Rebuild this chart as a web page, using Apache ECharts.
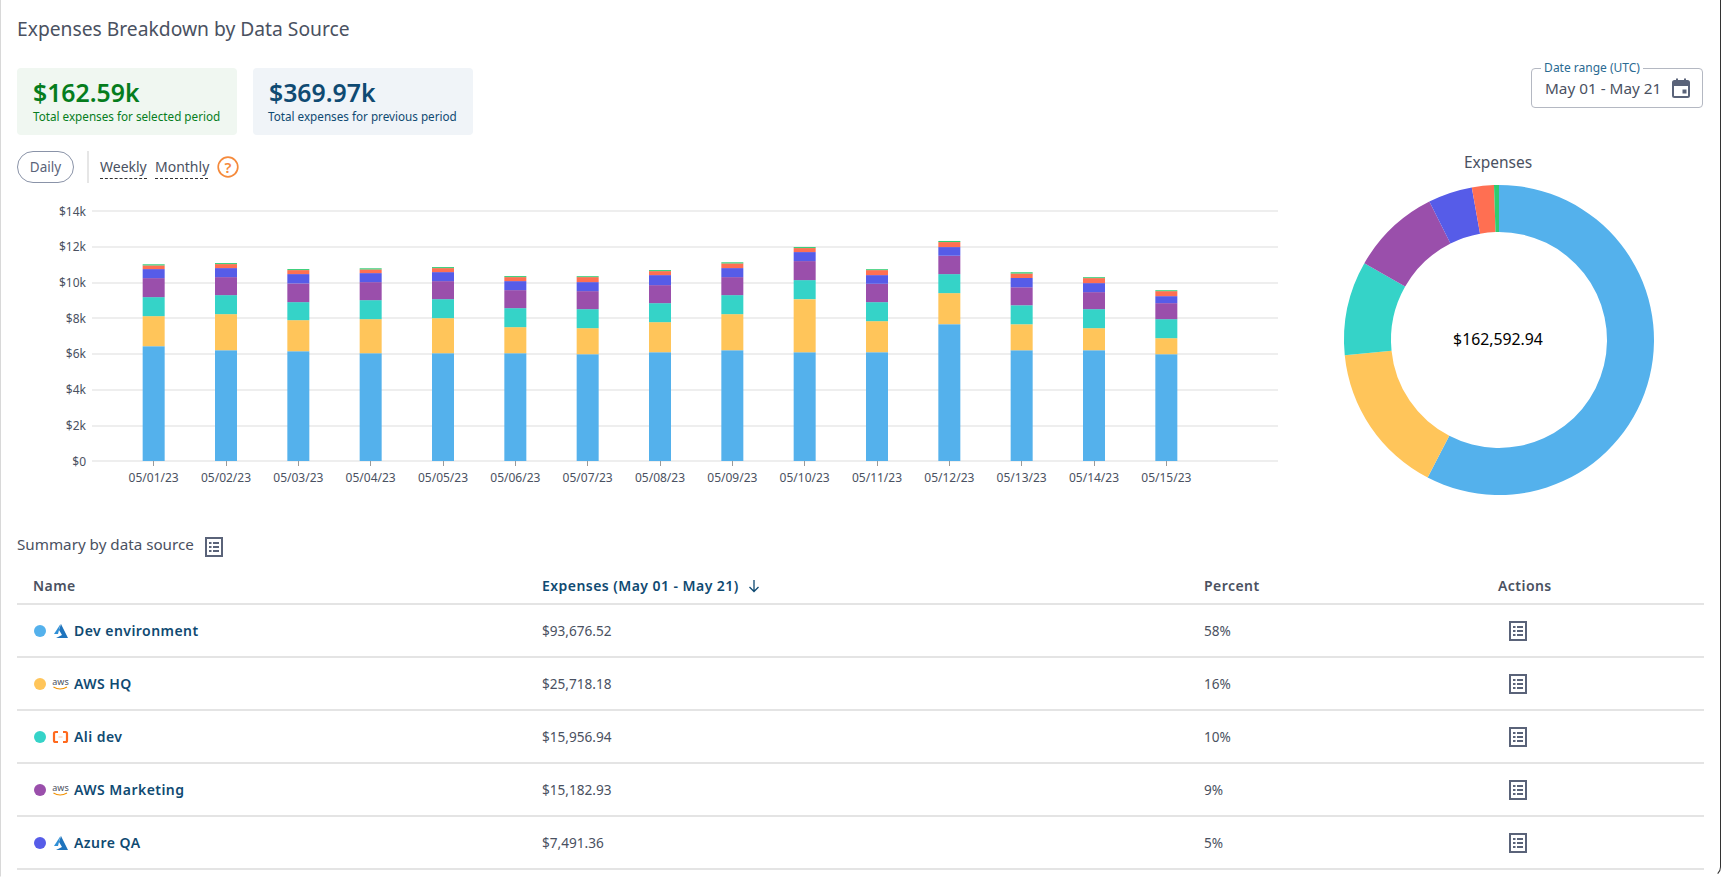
<!DOCTYPE html>
<html>
<head>
<meta charset="utf-8">
<title>Expenses Breakdown by Data Source</title>
<script src="https://cdn.jsdelivr.net/npm/echarts@6/dist/echarts.min.js"></script>
<style>
html,body{margin:0;padding:0;width:1721px;height:877px;overflow:hidden;background:#fff;font-family:"Noto Sans",sans-serif;color:#4a5161}
#chart{position:absolute;left:0;top:0;width:1721px;height:877px}
.a{position:absolute;white-space:nowrap;line-height:1}
.frame{position:absolute;left:0;top:-20px;width:1719px;height:896px;border-left:1px solid #d8d8d8;border-right:1px solid #333;border-bottom:1px solid transparent;border-bottom-right-radius:10px}
.card{position:absolute;top:68px;height:67px;width:220px;border-radius:4px}
.rowline{position:absolute;left:17px;width:1687px;height:2px;background:#e4e4e4}
.dot{position:absolute;width:12px;height:12px;border-radius:50%}
</style>
</head>
<body>
<div class="frame"></div>
<div id="chart"></div>
<div id="ui"></div>
<script>
const pageTitle = "Expenses Breakdown by Data Source";
const dates = ["05/01/23","05/02/23","05/03/23","05/04/23","05/05/23","05/06/23","05/07/23","05/08/23","05/09/23","05/10/23","05/11/23","05/12/23","05/13/23","05/14/23","05/15/23"];
const devEnvironment = [6430,6205,6149,6037,6037,6037,5981,6093,6205,6093,6093,7663,6205,6205,5981];
const awsHq = [1682,2019,1738,1906,1962,1458,1458,1682,2019,2972,1738,1738,1458,1234,897];
const aliDev = [1065,1065,1010,1065,1065,1065,1065,1065,1065,1065,1065,1065,1065,1065,1065];
const awsMarketing = [1065,1009,1047,1009,1009,1009,1009,1009,1009,1065,1028,1028,1009,953,897];
const azureQa = [505,505,523,505,505,505,505,561,505,505,486,486,505,505,392];
const otherA = [206,224,224,206,224,224,280,224,262,224,280,280,262,280,280];
const otherB = [62,56,56,62,56,56,50,56,62,56,50,62,62,50,50];
const sourceNames = ["Dev environment","AWS HQ","Ali dev","AWS Marketing","Azure QA","Other A","Other B"];
const sourceColors = ["#54b1ec","#ffc55a","#35d3c8","#9a4fab","#565ce8","#ff6f52","#2ecc71"];
const sourceTotals = [93676.52,25718.18,15956.94,15182.93,7491.36,3732,835.01];
const tableExpenses = ["$93,676.52","$25,718.18","$15,956.94","$15,182.93","$7,491.36"];
const tablePercents = ["58%","16%","10%","9%","5%"];
const tableIcons = ["azure","aws","ali","aws","azure"];
const totalLabel = "$162,592.94";

const dailySeries = [devEnvironment,awsHq,aliDev,awsMarketing,azureQa,otherA,otherB];

const FONT = '"Noto Sans",sans-serif';
const chart = echarts.init(document.getElementById('chart'), null, {renderer:'svg'});
chart.setOption({
  animation:false,
  title:[
    {text:"Expenses",left:1498,top:154,padding:0,textAlign:'center',textStyle:{fontFamily:FONT,fontSize:15.5,fontWeight:'normal',color:'#4a5161'}},
    {text:totalLabel,left:1498,top:331,padding:0,textAlign:'center',textStyle:{fontFamily:FONT,fontSize:15.8,fontWeight:'normal',color:'#000'}}
  ],
  grid:[
    {left:92,right:1721-1278,top:211,height:250},
    {left:117.5,width:1085,top:211,height:250}
  ],
  xAxis:[
    {gridIndex:0,type:'category',data:dates,show:false},
    {gridIndex:1,type:'category',data:dates,
      axisLine:{show:false},
      axisTick:{show:true,alignWithLabel:true,length:5,lineStyle:{color:'#9a9a9a',width:1}},
      axisLabel:{interval:0,margin:10,fontFamily:FONT,fontSize:12,color:'#4a5161'}}
  ],
  yAxis:[
    {gridIndex:0,type:'value',min:0,max:14000,interval:2000,
      axisLine:{show:false},axisTick:{show:false},
      splitLine:{lineStyle:{color:'#eeeeee',width:2}},
      axisLabel:{margin:6,fontFamily:FONT,fontSize:12,color:'#4a5161',formatter:v=>'$'+(v/1000)+(v?'k':'')}},
    {gridIndex:1,type:'value',min:0,max:14000,interval:2000,show:false,splitLine:{show:false}}
  ],
  series:[
    ...dailySeries.map((d,i)=>({
      type:'bar',name:sourceNames[i],stack:'daily',xAxisIndex:1,yAxisIndex:1,barWidth:22,
      data:d,itemStyle:{color:sourceColors[i]}
    })),
    {type:'pie',center:[1499,340],radius:[108,155],startAngle:90,clockwise:true,
      label:{show:false},labelLine:{show:false},silent:true,
      data:sourceTotals.map((v,i)=>({value:v,name:sourceNames[i],itemStyle:{color:sourceColors[i]}}))}
  ]
});

/* page furniture */
const listIcon = (cx,cy)=>`<svg class="a" style="left:${cx-9}px;top:${cy-10}px" width="18" height="20" viewBox="0 0 18 20"><rect x="1" y="1" width="16" height="18" fill="none" stroke="#5a6379" stroke-width="2"/><g fill="#5a6379"><rect x="4" y="5" width="2.5" height="2"/><rect x="8" y="5" width="6" height="2"/><rect x="4" y="9" width="2.5" height="2"/><rect x="8" y="9" width="6" height="2"/><rect x="4" y="13" width="2.5" height="2"/><rect x="8" y="13" width="6" height="2"/></g></svg>`;
const brand = {
  azure:`<svg width="17" height="16" viewBox="0 0 17 16"><path d="M8.5 1 L2 11 L6 11 Z" fill="#2f8fd6"/><path d="M9 1 L16 15 L4 15 L10 12 L7 7 Z" fill="#1f74bd"/></svg>`,
  aws:`<svg width="17" height="16" viewBox="0 0 17 16"><text x="8.5" y="8.5" text-anchor="middle" font-family="'Noto Sans'" font-size="9" fill="#4a5161">aws</text><path d="M1.5 11 Q8 15 15 11" fill="none" stroke="#f29100" stroke-width="1.2"/></svg>`,
  ali:`<svg width="17" height="16" viewBox="0 0 17 16"><path d="M6 3 H3.5 Q2 3 2 4.5 V11.5 Q2 13 3.5 13 H6 M11 3 H13.5 Q15 3 15 4.5 V11.5 Q15 13 13.5 13 H11" fill="none" stroke="#ff6a1f" stroke-width="2.2"/><rect x="6.5" y="7.6" width="4" height="0.8" fill="#ffb48a"/></svg>`
};
const t = (x,cy,txt,style)=>`<div class="a" style="left:${x}px;top:${cy}px;transform:translateY(-50%);${style||''}">${txt}</div>`;
const bold = 'font-size:14px;font-weight:600;letter-spacing:.45px;';
let h = '';
h += t(17,29,pageTitle,'font-size:19.25px;color:#4a5161');
h += `<div class="card" style="left:17px;background:#f0f7f1"></div><div class="card" style="left:253px;background:#f0f4f8"></div>`;
h += t(33,92,'$162.59k','font-size:24.8px;font-weight:600;color:#067d1d');
h += t(33,117,'Total expenses for selected period','font-size:11.7px;color:#067d1d');
h += t(269,92,'$369.97k','font-size:24.8px;font-weight:600;color:#0f4a72');
h += t(268,117,'Total expenses for previous period','font-size:11.7px;color:#0f4a72');
h += `<div class="a" style="left:17px;top:151px;width:55px;height:30px;border:1px solid #8a93a8;border-radius:16px;text-align:center;line-height:30px;font-size:13.5px;color:#5a6379">Daily</div>`;
h += `<div class="a" style="left:87px;top:151px;width:2px;height:32px;background:#e6e6e6"></div>`;
h += t(100,167,'Weekly','font-size:14px;color:#4a5161');
h += t(155,167,'Monthly','font-size:14px;color:#4a5161');
h += `<div class="a" style="left:100px;top:178px;width:47px;border-top:1px dashed #333"></div><div class="a" style="left:155px;top:178px;width:53px;border-top:1px dashed #333"></div>`;
h += `<svg class="a" style="left:217px;top:156px" width="22" height="22" viewBox="0 0 22 22"><circle cx="11" cy="11" r="9.8" fill="none" stroke="#f58a3c" stroke-width="1.7"/><text x="11" y="16.5" text-anchor="middle" font-family="'Noto Sans'" font-size="15" font-weight="600" fill="#f58a3c">?</text></svg>`;
h += `<div class="a" style="left:1531px;top:68px;width:170px;height:38px;border:1px solid #b4b8c2;border-radius:4px"></div>`;
h += t(1541,68,'&nbsp;Date range (UTC)&nbsp;','font-size:12px;color:#2a6a92;background:#fff');
h += t(1545,89,'May 01 - May 21','font-size:15.3px;color:#4a5161');
h += `<svg class="a" style="left:1671px;top:78px" width="20" height="20" viewBox="0 0 20 20"><rect x="2" y="3" width="16" height="16" rx="1.5" fill="none" stroke="#5a6379" stroke-width="2"/><rect x="2" y="3" width="16" height="5" fill="#5a6379"/><rect x="5" y="0.5" width="2" height="4" fill="#5a6379"/><rect x="13" y="0.5" width="2" height="4" fill="#5a6379"/><rect x="11.5" y="11.5" width="4" height="4" fill="#5a6379"/></svg>`;
h += t(17,545,'Summary by data source','font-size:15.2px;color:#4a5161');
h += listIcon(214,547);
h += t(33,586,'Name',bold+'color:#4a5161');
h += t(542,586,'Expenses (May 01 - May 21)',bold+'color:#0f4a72');
h += `<svg class="a" style="left:747px;top:579px" width="14" height="14" viewBox="0 0 14 14"><path d="M7 1 V12.5 M2.5 8 L7 12.5 L11.5 8" fill="none" stroke="#0f4a72" stroke-width="1.3"/></svg>`;
h += t(1204,586,'Percent',bold+'color:#4a5161');
h += t(1498,586,'Actions',bold+'color:#4a5161');
h += `<div class="rowline" style="top:603px"></div>`;
tableExpenses.forEach((exp,i)=>{
  const cy = 631 + i*53;
  h += `<div class="dot" style="left:34px;top:${cy-6}px;background:${sourceColors[i]}"></div>`;
  h += `<div class="a" style="left:52px;top:${cy-8}px;width:17px;height:16px">${brand[tableIcons[i]]}</div>`;
  h += t(74,cy,sourceNames[i],bold+'color:#0f4a72');
  h += t(542,cy,exp,'font-size:13.6px;color:#4a5161');
  h += t(1204,cy,tablePercents[i],'font-size:13.6px;color:#4a5161');
  h += listIcon(1518,cy);
  h += `<div class="rowline" style="top:${cy+25}px"></div>`;
});
document.getElementById('ui').innerHTML = h;
</script>
</body>
</html>
